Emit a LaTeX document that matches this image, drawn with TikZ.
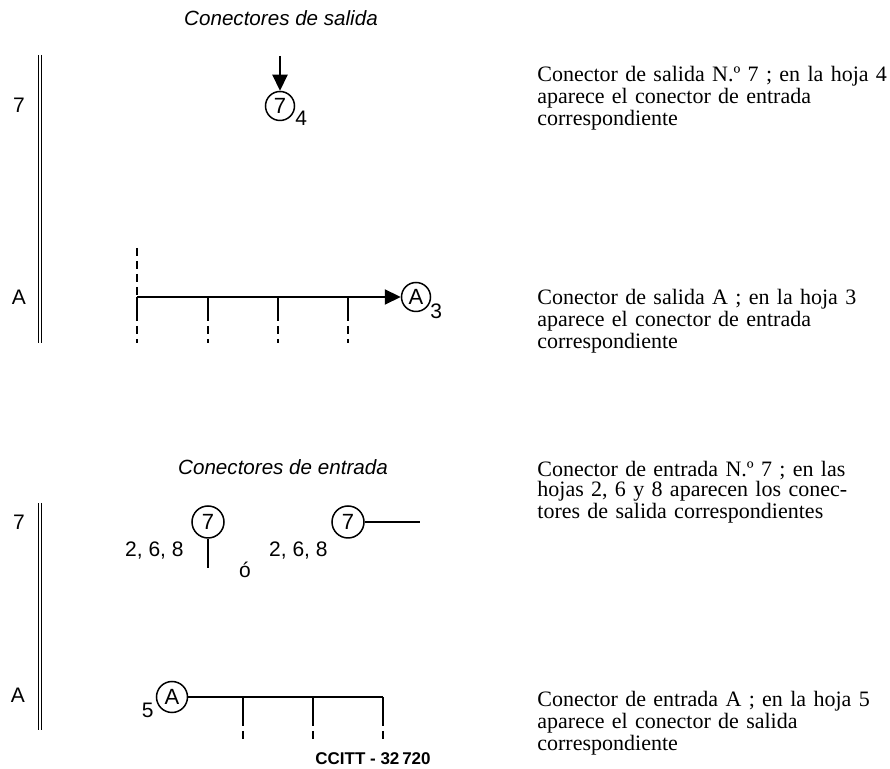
\documentclass[tikz,border=0pt]{standalone}
\usepackage{fontspec}
\setmainfont{Liberation Serif}
\setsansfont{Liberation Sans}
\usetikzlibrary{arrows.meta}

\begin{document}
\begin{tikzpicture}[x=0.5pt, y=-0.5pt,
    conn/.style={draw, circle, line width=0.75pt, inner sep=0pt, minimum size=14.5pt, font=\sffamily\fontsize{11}{11}\selectfont},
    lbl/.style={inner sep=0pt, font=\sffamily\fontsize{10.5}{10}\selectfont},
    heading/.style={inner sep=0pt, font=\sffamily\itshape\fontsize{10.3}{10}\selectfont},
    desc/.style={anchor=base west, inner sep=0pt, text width=185pt, align=left, font=\fontsize{11}{9.6}\selectfont},
    wire/.style={line width=1.1pt},
    flow/.style={line width=1.1pt, -{Triangle[length=8pt,width=7.5pt]}},
    stub/.style={line width=1.1pt, dash pattern=on 4pt off 2.5pt},
    bar/.style={double, double distance=1.2pt, line width=0.55pt}]
    \useasboundingbox (0,0) rectangle (890,769);

    % Headings
    \node[heading] (hout) at (281,18) {Conectores de salida};
    \node[heading] (hin) at (283,467) {Conectores de entrada};

    % Margin bars and row labels
    \coordinate (bar1a) at (40,55);
    \coordinate (bar1b) at (40,343);
    \coordinate (bar2a) at (40,503);
    \coordinate (bar2b) at (40,730);
    \draw[bar] (bar1a) -- (bar1b);
    \draw[bar] (bar2a) -- (bar2b);
    \node[lbl] (row7a) at (19,105) {7};
    \node[lbl] (rowAa) at (19,297) {A};
    \node[lbl] (row7b) at (19,522) {7};
    \node[lbl] (rowAb) at (18,695) {A};

    % Outgoing connector 7
    \node[conn] (out7) at (280,106) {7};
    \node[lbl, anchor=base west] (sheet4) at (295,126) {4};
    \coordinate (out7in) at (280,56);
    \draw[flow] (out7in) -- (out7);

    % Outgoing connector A
    \node[conn] (outA) at (416,297) {A};
    \node[lbl, anchor=base west] (sheet3) at (430,319) {3};
    \coordinate (busA0) at (137,248);
    \foreach \x [count=\i] in {137,208,278,348} {
        \coordinate (ta\i) at (\x,297);
        \coordinate (tb\i) at (\x,313);
        \coordinate (tc\i) at (\x,343);
        \draw[wire] (ta\i) -- (tb\i);
        \draw[stub] (tb\i) -- (tc\i);
    }
    \draw[stub] (busA0) -- (ta1);
    \draw[flow] (ta1) -- (outA);

    % Incoming connector 7, two forms
    \node[conn, minimum size=16pt] (in7a) at (208,522) {7};
    \coordinate (in7aout) at (208,568);
    \draw[wire] (in7a) -- (in7aout);
    \node[lbl, anchor=base east] (pages1) at (184,557) {2, 6, 8};
    \node[lbl] (alt) at (245,570) {ó};
    \node[lbl, anchor=base east] (pages2) at (328,557) {2, 6, 8};
    \node[conn, minimum size=16pt] (in7b) at (348,522) {7};
    \coordinate (in7bout) at (420,522);
    \draw[wire] (in7b) -- (in7bout);

    % Incoming connector A
    \node[conn, minimum size=15.5pt] (inA) at (172,697) {A};
    \node[lbl, anchor=base east] (sheet5) at (154,718) {5};
    \foreach \x [count=\i] in {243,313,383} {
        \coordinate (ba\i) at (\x,697);
        \coordinate (bb\i) at (\x,718);
        \coordinate (bc\i) at (\x,743);
        \draw[wire] (ba\i) -- (bb\i);
        \draw[stub] (bb\i) -- (bc\i);
    }
    \draw[wire] (inA) -- (ba3);
    \node[anchor=base west, inner sep=0pt, font=\sffamily\bfseries\fontsize{8.5}{8.5}\selectfont] (ref) at (315,765) {CCITT - 32\,720};

    % Descriptions
    \node[desc] (d1) at (537,82) {Conector de salida N.º 7 ; en la hoja 4\\ aparece el conector de entrada\\ correspondiente};
    \node[desc] (d2) at (537,305) {Conector de salida A ; en la hoja 3\\ aparece el conector de entrada\\ correspondiente};
    \node[desc] (d3) at (537,477) {Conector de entrada N.º 7 ; en las\\ hojas 2, 6 y 8 aparecen los conec-\\ tores de salida correspondientes};
    \node[desc] (d4) at (537,707) {Conector de entrada A ; en la hoja 5\\ aparece el conector de salida\\ correspondiente};
\end{tikzpicture}
\end{document}
